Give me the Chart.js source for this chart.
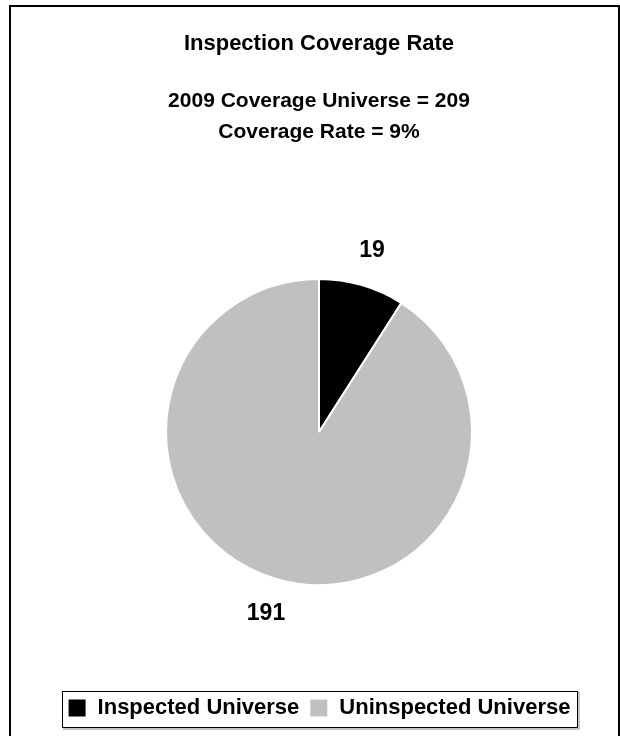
<!DOCTYPE html>
<html>
<head>
<meta charset="utf-8">
<script src="https://cdn.jsdelivr.net/npm/chart.js@4/dist/chart.umd.min.js"></script>
<style>
html,body{margin:0;padding:0;background:#fff;}
#wrap{width:620px;height:736px;position:relative;}
</style>
</head>
<body>
<div id="wrap"><canvas id="c" width="620" height="736"></canvas></div>
<script>
const categories = ["Inspected Universe", "Uninspected Universe"];
const values = [19, 191];
const colors = ["#000000", "#c0c0c0"];
const titleText = "Inspection Coverage Rate";
const subtitleLines = ["2009 Coverage Universe = 209", "Coverage Rate = 9%"];

const FONT = "'Liberation Sans', Arial, sans-serif";

const framePlugin = {
  id: 'frame',
  beforeDraw(chart) {
    const ctx = chart.ctx;
    ctx.save();
    ctx.fillStyle = '#fff';
    ctx.fillRect(0, 0, chart.width, chart.height);
    ctx.strokeStyle = '#000';
    ctx.lineWidth = 2;
    ctx.strokeRect(10, 6, 609, 740);
    ctx.restore();
  },
  afterDraw(chart) {
    const ctx = chart.ctx;
    ctx.save();
    // legend box
    ctx.strokeStyle = '#000';
    ctx.lineWidth = 1;
    ctx.strokeRect(62.5, 691.5, 515, 36);
    ctx.strokeStyle = '#888';
    ctx.beginPath();
    ctx.moveTo(63, 729); ctx.lineTo(579, 729); ctx.lineTo(579, 692);
    ctx.stroke();
    // data labels
    const meta = chart.getDatasetMeta(0);
    ctx.fillStyle = '#000';
    ctx.font = "bold 23px " + FONT;
    ctx.textAlign = 'center';
    ctx.textBaseline = 'middle';
    meta.data.forEach((arc, i) => {
      const p = arc.getProps(['x','y','startAngle','endAngle','outerRadius'], true);
      const mid = (p.startAngle + p.endAngle) / 2;
      const r = p.outerRadius + 36;
      ctx.fillText(String(values[i]), p.x + Math.cos(mid) * r, p.y + Math.sin(mid) * r);
    });
    ctx.restore();
  }
};

new Chart(document.getElementById('c'), {
  type: 'pie',
  data: {
    labels: categories,
    datasets: [{
      data: values,
      backgroundColor: colors,
      borderColor: '#ffffff',
      borderWidth: 2,
      hoverOffset: 0
    }]
  },
  options: {
    responsive: false,
    animation: false,
    radius: 153,
    layout: { padding: { left: 18, right: 0, top: 0, bottom: 7 } },
    plugins: {
      title: {
        display: true,
        text: titleText,
        color: '#000',
        font: { family: FONT, size: 22, weight: 'bold', lineHeight: 1.2 },
        padding: { top: 31, bottom: 28.8 }
      },
      subtitle: {
        display: true,
        text: subtitleLines,
        color: '#000',
        font: { family: FONT, size: 21, weight: 'bold', lineHeight: 1.476 },
        padding: { top: 0, bottom: 28.8 }
      },
      legend: {
        position: 'bottom',
        labels: {
          color: '#000',
          font: { family: FONT, size: 22, weight: 'bold' },
          boxWidth: 19,
          boxHeight: 19,
          padding: 10
        }
      },
      tooltip: { enabled: false }
    }
  },
  plugins: [framePlugin]
});
</script>
</body>
</html>
